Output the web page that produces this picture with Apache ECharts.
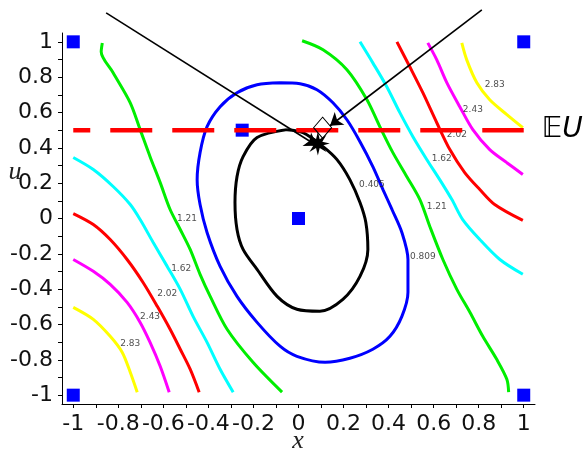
<!DOCTYPE html>
<html>
<head>
<meta charset="utf-8">
<script src="https://cdn.jsdelivr.net/npm/echarts@6/dist/echarts.min.js"></script>
<style>
html, body { margin: 0; padding: 0; background: #fff; }
#main { width: 583px; height: 453px; }
</style>
</head>
<body>
<div id="main"></div>
<script>
// tick values
const tickLabels = [-1, -0.8, -0.6, -0.4, -0.2, 0, 0.2, 0.4, 0.6, 0.8, 1];
const tickMarks = [-1, -0.9, -0.8, -0.7, -0.6, -0.5, -0.4, -0.3, -0.2, -0.1, 0, 0.1, 0.2, 0.3, 0.4, 0.5, 0.6, 0.7, 0.8, 0.9, 1];

// contour lines as [x, u]
const black405 = [[-0.051, 0.503], [0.020, 0.486], [0.109, 0.407], [0.171, 0.333], [0.228, 0.220], [0.273, 0.090], [0.299, -0.023], [0.308, -0.175], [0.273, -0.328], [0.197, -0.458], [0.095, -0.525], [-0.007, -0.514], [-0.095, -0.441], [-0.184, -0.288], [-0.246, -0.175], [-0.273, -0.062], [-0.282, 0.090], [-0.273, 0.237], [-0.246, 0.350], [-0.184, 0.458], [-0.051, 0.503]];
const blue809 = [[-0.082, 0.768], [0.007, 0.763], [0.082, 0.729], [0.153, 0.655], [0.215, 0.559], [0.273, 0.435], [0.330, 0.294], [0.375, 0.164], [0.415, 0.051], [0.459, -0.079], [0.486, -0.232], [0.486, -0.418], [0.459, -0.554], [0.406, -0.667], [0.330, -0.740], [0.228, -0.791], [0.118, -0.814], [-0.007, -0.780], [-0.082, -0.723], [-0.184, -0.588], [-0.273, -0.441], [-0.348, -0.271], [-0.406, -0.079], [-0.437, 0.079], [-0.450, 0.220], [-0.437, 0.373], [-0.406, 0.520], [-0.348, 0.633], [-0.273, 0.712], [-0.184, 0.757], [-0.082, 0.768]];
const green121Left = [[-0.871, 0.994], [-0.876, 0.944], [-0.823, 0.825], [-0.747, 0.655], [-0.703, 0.503], [-0.659, 0.350], [-0.614, 0.203], [-0.570, 0.051], [-0.525, -0.062], [-0.481, -0.175], [-0.437, -0.316], [-0.392, -0.441], [-0.317, -0.627], [-0.202, -0.814], [-0.073, -0.983]];
const green121Right = [[0.016, 1.006], [0.109, 0.955], [0.215, 0.842], [0.304, 0.672], [0.361, 0.520], [0.419, 0.373], [0.481, 0.237], [0.539, 0.107], [0.583, -0.045], [0.641, -0.232], [0.703, -0.401], [0.761, -0.531], [0.818, -0.667], [0.880, -0.797], [0.925, -0.910], [0.933, -0.983]];
const cyan162Left = [[-1.000, 0.345], [-0.911, 0.277], [-0.823, 0.181], [-0.747, 0.079], [-0.703, -0.006], [-0.645, -0.136], [-0.583, -0.271], [-0.525, -0.401], [-0.468, -0.554], [-0.406, -0.701], [-0.348, -0.853], [-0.290, -0.983]];
const cyan162Right = [[0.273, 1.000], [0.330, 0.881], [0.392, 0.746], [0.450, 0.599], [0.508, 0.463], [0.570, 0.333], [0.627, 0.220], [0.681, 0.107], [0.729, -0.006], [0.805, -0.119], [0.894, -0.232], [0.996, -0.316]];
const red202Left = [[-1.000, 0.028], [-0.911, -0.034], [-0.836, -0.119], [-0.761, -0.232], [-0.690, -0.362], [-0.627, -0.497], [-0.570, -0.627], [-0.525, -0.740], [-0.481, -0.853], [-0.441, -0.983]];
const red202Right = [[0.437, 1.000], [0.494, 0.859], [0.552, 0.712], [0.614, 0.542], [0.672, 0.390], [0.738, 0.260], [0.805, 0.164], [0.871, 0.079], [0.996, -0.011]];
const magenta243Left = [[-1.000, -0.232], [-0.911, -0.299], [-0.836, -0.373], [-0.761, -0.475], [-0.703, -0.588], [-0.659, -0.701], [-0.614, -0.836], [-0.574, -0.983]];
const magenta243Right = [[0.574, 0.994], [0.614, 0.898], [0.659, 0.768], [0.716, 0.633], [0.774, 0.503], [0.849, 0.390], [0.925, 0.316], [0.996, 0.249]];
const yellow283Left = [[-1.000, -0.503], [-0.911, -0.571], [-0.836, -0.667], [-0.783, -0.757], [-0.747, -0.870], [-0.716, -0.983]];
const yellow283Right = [[0.725, 0.994], [0.747, 0.898], [0.792, 0.768], [0.849, 0.672], [0.925, 0.588], [0.996, 0.514]];

// contour level labels: text, x, u
const levelLabels = [
    ['0.405', 0.326, 0.192],
    ['0.809', 0.552, -0.215],
    ['1.21', -0.495, 0.0],
    ['1.21', 0.614, 0.068],
    ['1.62', -0.521, -0.282],
    ['1.62', 0.636, 0.339],
    ['2.02', -0.583, -0.424],
    ['2.02', 0.703, 0.475],
    ['2.43', -0.659, -0.554],
    ['2.43', 0.774, 0.616],
    ['2.83', -0.747, -0.706],
    ['2.83', 0.871, 0.757],
];

// other marks
const designPoints = [[-1, 1], [1, 1], [-1, -1], [1, -1], [0, 0], [-0.25, 0.5]];
const euLine = [[-1, 0.5], [1, 0.5]];
const optimumPoint = [[0.086, 0.424]];
const diamondPoint = [[0.107, 0.514]];
const arrowStarts = [[-0.854, 1.164], [0.814, 1.181]];
const arrowEnds = [[0.082, 0.412], [0.140, 0.525]];

function starPath(n, ro, ri) {
    let d = '';
    for (let i = 0; i < 2 * n; i++) {
        const r = i % 2 ? ri : ro;
        const a = Math.PI * i / n - Math.PI / 2;
        d += (i ? 'L' : 'M') + (r * Math.cos(a)).toFixed(2) + ' ' + (r * Math.sin(a)).toFixed(2);
    }
    return 'path://' + d + 'Z';
}

function contour(data, color) {
    return {
        type: 'line',
        data: data,
        symbol: 'none',
        smooth: 0.3,
        silent: true,
        z: 2,
        lineStyle: { color: color, width: 3 },
    };
}

const axisCommon = {
    type: 'value',
    min: -1.05,
    max: 1.05,
    splitLine: { show: false },
    axisLine: { show: true, onZero: false, lineStyle: { color: '#000', width: 1 } },
    axisTick: { show: true, customValues: tickMarks, length: 4, lineStyle: { color: '#000' } },
    axisLabel: {
        customValues: tickLabels,
        fontSize: 22,
        fontFamily: 'DejaVu Sans',
        color: '#111',
        margin: 9,
    },
};

const chart = echarts.init(document.getElementById('main'));
chart.setOption({
    animation: false,
    backgroundColor: '#fff',
    grid: { left: 62, right: 48, top: 33, bottom: 49 },
    xAxis: Object.assign({}, axisCommon, { position: 'bottom' }),
    yAxis: Object.assign({}, axisCommon, { position: 'left' }),
    graphic: [
        { type: 'text', x: 298, y: 441, style: { text: 'x', font: 'italic 26px "Liberation Serif"', fill: '#222', textAlign: 'center', textVerticalAlign: 'middle' } },
        { type: 'text', x: 15, y: 172, style: { text: 'u', font: 'italic 26px "Liberation Serif"', fill: '#222', textAlign: 'center', textVerticalAlign: 'middle' } },
        // title above the plot, mostly cut off by the top edge
        { type: 'text', x: 56, y: 1, style: { text: '(x, u)', font: '22px "DejaVu Sans"', fill: '#222', textAlign: 'center', textVerticalAlign: 'bottom' } },
    ],
    series: [
        contour(black405, '#000000'),
        contour(blue809, '#0000ff'),
        contour(green121Left, '#00ee00'),
        contour(green121Right, '#00ee00'),
        contour(cyan162Left, '#00ffff'),
        contour(cyan162Right, '#00ffff'),
        contour(red202Left, '#ff0000'),
        contour(red202Right, '#ff0000'),
        contour(magenta243Left, '#ff00ff'),
        contour(magenta243Right, '#ff00ff'),
        contour(yellow283Left, '#ffff00'),
        contour(yellow283Right, '#ffff00'),
        {
            type: 'scatter',
            data: levelLabels.map(l => ({ name: l[0], value: [l[1], l[2]] })),
            symbolSize: 0,
            silent: true,
            z: 3,
            label: {
                show: true,
                position: 'inside',
                formatter: p => p.name,
                fontSize: 9,
                fontFamily: 'DejaVu Sans',
                color: '#222',
            },
        },
        {
            type: 'scatter',
            data: designPoints,
            symbol: 'rect',
            symbolSize: 13,
            silent: true,
            z: 4,
            itemStyle: { color: '#0000ff', opacity: 1 },
        },
        {
            type: 'line',
            data: euLine,
            symbol: 'none',
            silent: true,
            z: 5,
            lineStyle: { color: '#ff0000', width: 4.5, type: [42, 20], dashOffset: 25 },
            endLabel: {
                show: true,
                distance: 18,
                formatter: '{e|\u{1D53C}}{u|U}',
                rich: {
                    e: { fontSize: 28, fontFamily: 'DejaVu Sans', color: '#000' },
                    u: { fontSize: 28, fontFamily: 'DejaVu Sans', fontStyle: 'italic', color: '#000' },
                },
            },
        },
        {
            type: 'lines',
            coordinateSystem: 'cartesian2d',
            clip: false,
            silent: true,
            z: 6,
            symbol: ['none', 'arrow'],
            symbolSize: 12,
            lineStyle: { color: '#000', width: 1.6, opacity: 1, curveness: 0 },
            data: arrowStarts.map((s, i) => ({ coords: [s, arrowEnds[i]] })),
        },
        {
            type: 'scatter',
            data: diamondPoint,
            symbol: 'diamond',
            symbolSize: [18, 21],
            silent: true,
            z: 7,
            itemStyle: { color: 'rgba(255,255,255,0)', borderColor: '#000', borderWidth: 1, opacity: 1 },
        },
        {
            type: 'scatter',
            data: optimumPoint,
            symbol: starPath(8, 10, 4),
            symbolSize: 24,
            silent: true,
            z: 8,
            itemStyle: { color: '#000', opacity: 1 },
        },
    ],
});
</script>
</body>
</html>
